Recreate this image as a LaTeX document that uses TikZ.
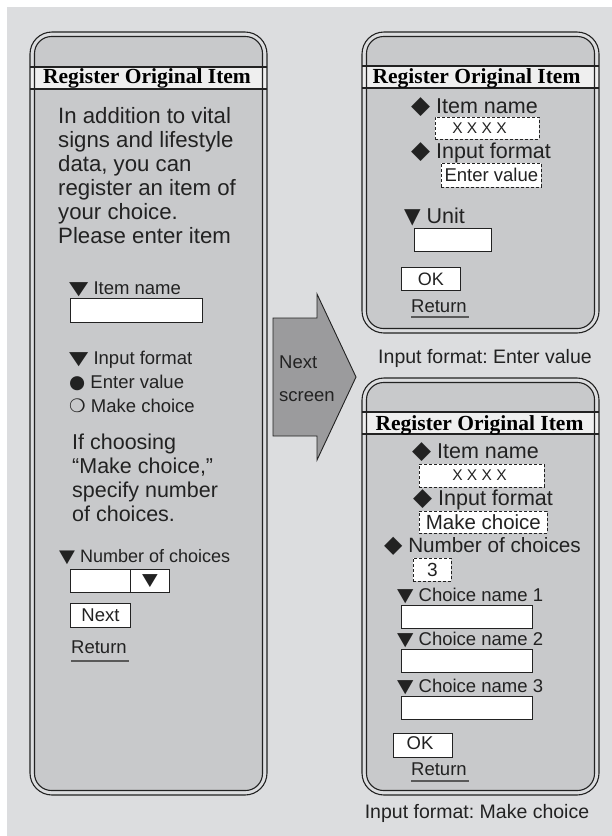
\documentclass[tikz,border=0pt]{standalone}
\usepackage{fontspec}
\setmainfont{Liberation Sans}
\newfontfamily\titlefont{Liberation Serif}
\newfontfamily\symfont{DejaVu Sans}
\definecolor{bggray}{HTML}{DCDDDF}
\definecolor{panelgray}{HTML}{C8C9CB}
\definecolor{bandgray}{HTML}{EFEFEF}
\definecolor{arrowgray}{HTML}{9B9B9D}
\definecolor{ink}{HTML}{222222}
\newcommand{\downtri}[1][1.35]{{\symfont\scalebox{#1}[1]{▼}}}
\newcommand{\diam}{{\symfont\scalebox{1.15}{◆}}}
\newcommand{\blt}{{\symfont ●}}
\newcommand{\rng}{{\symfont ❍}}
\frenchspacing

\begin{document}
\begin{tikzpicture}[x=1pt,y=-1pt,
  big/.style={font=\fontsize{21.5}{24}\selectfont, inner sep=0pt, anchor=base west, text=ink},
  mid/.style={font=\fontsize{19.5}{23}\selectfont, inner sep=0pt, anchor=base west, text=ink},
  small/.style={font=\fontsize{18.5}{22}\selectfont, inner sep=0pt, anchor=base west, text=ink},
  title/.style={font=\titlefont\bfseries\fontsize{21.5}{24}\selectfont, inner sep=0pt, anchor=base, text=black},
  field/.style={draw=ink, line width=0.9pt, fill=white, inner sep=0pt, anchor=north west, text=ink},
  dfield/.style={draw=ink, line width=0.7pt, fill=white, dash pattern=on 3pt off 2pt, inner sep=0pt, anchor=north west, text=ink},
  rule/.style={draw=ink!75, line width=1.4pt}]
\useasboundingbox (0,0) rectangle (612,836);
\fill[white] (0,0) rectangle (612,836);
\fill[bggray] (7,7) rectangle (612,836);

\foreach \l/\t/\r/\b/\h in {30/32/267/795/67, 362/32/599/333/66, 362/378/599/795/412} {
  \fill[panelgray, rounded corners=17pt] (\l+4.5,\t+4.5) rectangle (\r-4.5,\b-4.5);
  \fill[bandgray] (\l,\h) rectangle (\r,\h+22);
  \draw[ink, line width=1.1pt, rounded corners=22pt] (\l,\t) rectangle (\r,\b);
  \draw[ink, line width=1.1pt, rounded corners=17pt] (\l+4.5,\t+4.5) rectangle (\r-4.5,\b-4.5);
  \draw[ink, line width=1.1pt] (\l,\h) -- (\r,\h) (\l,\h+22) -- (\r,\h+22);
}

\node[title] (t1) at (147,83) {Register Original Item};
\node[title] (t2) at (476.5,83) {Register Original Item};
\node[title] (t3) at (479.5,430) {Register Original Item};

\foreach \s [count=\i from 0] in {In addition to vital,signs and lifestyle,{data, you can},register an item of,your choice.,Please enter item}
  \node[big, font=\fontsize{22.2}{24}\selectfont] (intro\i) at (58,123+24*\i) {\s};
\node[small] (lname) at (69,294) {\downtri\ Item name};
\node[field, minimum width=132pt, minimum height=24pt] (namefield) at (70,298) {};
\node[small] (lformat) at (69,364) {\downtri\ Input format};
\node[small] (lvalue) at (69,388) {\blt\ Enter value};
\node[small] (lchoice) at (69,412) {\rng\ Make choice};
\foreach \s [count=\i from 0] in {If choosing,{``Make choice,''},specify number,of choices.}
  \node[big] (hint\i) at (72,449+24*\i) {\s};
\node[small, font=\fontsize{18}{22}\selectfont] (lnum) at (59,562) {\downtri[1.15]\ Number of choices};
\node[field, minimum width=60pt, minimum height=23pt] (numfield) at (70,569) {};
\node[field, minimum width=39pt, minimum height=23pt, font=\fontsize{17}{20}\selectfont] (numbtn) at (130,569) {\downtri[1.2]};
\node[field, minimum width=60pt, minimum height=24pt, font=\fontsize{18.5}{22}\selectfont] (next) at (70,603) {Next};
\node[small] (ret1) at (71,653) {Return};
\draw[rule] ([yshift=-8pt]ret1.base west) -- ([yshift=-8pt,xshift=2pt]ret1.base east);

\draw[ink, line width=0.9pt, fill=arrowgray] (273,318) -- (317,318) -- (317,294) -- (356,377)
  -- (317,460) -- (317,436) -- (273,436) -- cycle;
\node[small] (nx) at (279,368) {Next};
\node[small] (sc) at (279,401) {screen};

\node[big] (aname) at (411,113) {\diam\ Item name};
\node[dfield, minimum width=104pt, minimum height=22pt] (ax) at (435,117) {};
\node[font=\fontsize{15.5}{18}\selectfont, text=ink, inner sep=0pt] (axt) at (479.5,128) {X X X X};
\node[big] (aformat) at (411,158) {\diam\ Input format};
\node[dfield, minimum width=100pt, minimum height=24pt, font=\fontsize{18.5}{22}\selectfont] (aval) at (441,163) {Enter value};
\node[big] (aunit) at (404,223) {\downtri[1]\ Unit};
\node[field, minimum width=77pt, minimum height=23pt] (unitfield) at (414,228) {};
\node[field, minimum width=59pt, minimum height=23pt, font=\fontsize{18}{22}\selectfont] (aok) at (401,267) {OK};
\node[small] (ret2) at (411,312) {Return};
\draw[rule] ([yshift=-5pt]ret2.base west) -- ([yshift=-5pt,xshift=2pt]ret2.base east);
\node[mid, anchor=base] (cap1) at (485,363) {Input format: Enter value};

\node[big] (bname) at (412,458) {\diam\ Item name};
\node[dfield, minimum width=125pt, minimum height=23pt] (bx) at (419,464) {};
\node[font=\fontsize{15.5}{18}\selectfont, text=ink, inner sep=0pt] (bxt) at (479.5,475.5) {X X X X};
\node[big] (bformat) at (413,505) {\diam\ Input format};
\node[dfield, minimum width=128pt, minimum height=22pt, font=\fontsize{20.5}{24}\selectfont] (bchoice) at (419,511) {Make choice};
\node[big, font=\fontsize{20.7}{24}\selectfont] (bnum) at (384,552) {\diam\ Number of choices};
\node[dfield, minimum width=38pt, minimum height=23pt, font=\fontsize{19}{22}\selectfont] (bthree) at (413,558) {3};
\foreach \i/\y in {1/601,2/645,3/692} {
  \node[small] (bcn\i) at (397,\y) {\downtri[1.15]\ Choice name \i};
  \node[field, minimum width=131pt, minimum height=23pt] (bcf\i) at (401,\y+4) {};
}
\node[field, minimum width=59pt, minimum height=24pt] (bok) at (393,733) {};
\node[small, anchor=base] (bokt) at (420,749) {OK};
\node[small] (ret3) at (411,775) {Return};
\draw[rule] ([yshift=-6pt]ret3.base west) -- ([yshift=-6pt,xshift=2pt]ret3.base east);
\node[mid, anchor=base] (cap2) at (477,818) {Input format: Make choice};
\end{tikzpicture}
\end{document}
